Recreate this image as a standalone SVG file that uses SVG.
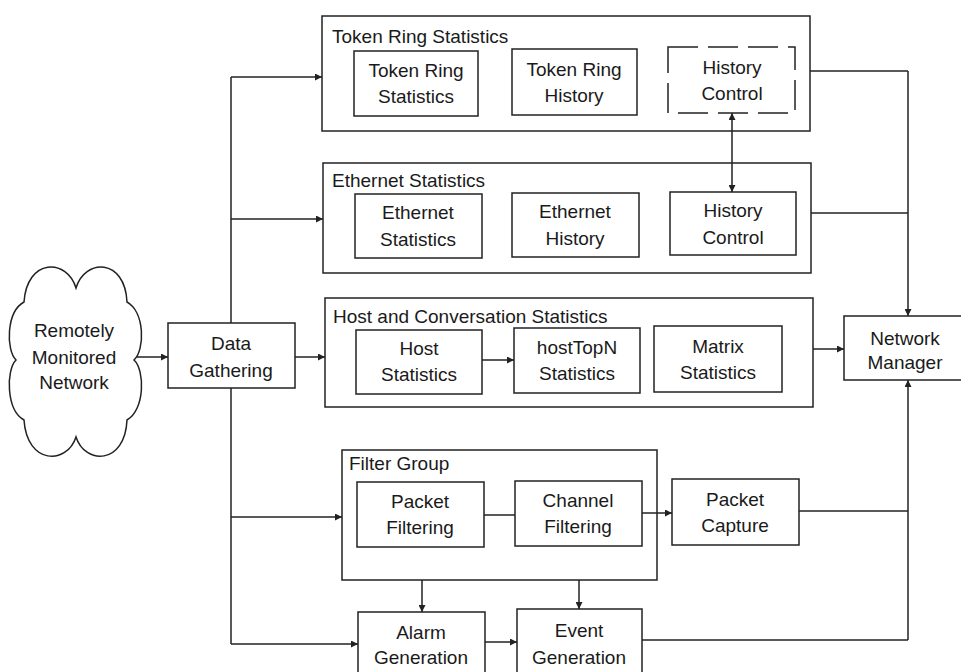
<svg xmlns="http://www.w3.org/2000/svg" width="961" height="672" viewBox="0 0 961 672">
<style>
  .box { fill: #ffffff; stroke: #222; stroke-width: 1.5; }
  .dash { fill: #ffffff; stroke: #222; stroke-width: 1.5; stroke-dasharray: 30 10; }
  .t { font-family: "Liberation Sans", Arial, sans-serif; font-size: 19px; fill: #1a1a1a; text-anchor: middle; }
  .title { font-family: "Liberation Sans", Arial, sans-serif; font-size: 19px; fill: #1a1a1a; text-anchor: start; }
  .ln { fill: none; stroke: #222; stroke-width: 1.5; }
  .arr { fill: none; stroke: #222; stroke-width: 1.5; marker-end: url(#ah); }
</style>
<defs>
  <marker id="ah" viewBox="0 0 10 10" refX="10" refY="5" markerWidth="7" markerHeight="7" markerUnits="userSpaceOnUse" orient="auto-start-reverse">
    <path d="M0,0 L10,5 L0,10 z" fill="#222"/>
  </marker>
</defs>
<rect width="961" height="672" fill="#ffffff"/>

<g id="cloud">
  <path class="box" d="M76,288 C85,258 125,258 127,302 C145,312 145,350 134,360 C145,370 145,410 127,420 C125,465 85,465 76,437 C67,465 27,465 24,420 C6,410 6,370 16,360 C6,350 6,312 24,302 C27,258 67,258 76,288 Z"/>
  <text class="t" x="74" y="337">Remotely</text>
  <text class="t" x="74" y="364">Monitored</text>
  <text class="t" x="74" y="389">Network</text>
</g>

<g id="data-gathering">
  <rect class="box" x="168" y="323" width="127" height="65"/>
  <text class="t" x="231" y="350">Data</text>
  <text class="t" x="231" y="377">Gathering</text>
</g>

<g id="token-ring-group">
  <rect class="box" x="322" y="16" width="488" height="115"/>
  <text class="title" x="332" y="43">Token Ring Statistics</text>
</g>
<g id="tr-stats">
  <rect class="box" x="354" y="51" width="124" height="65"/>
  <text class="t" x="416" y="77">Token Ring</text>
  <text class="t" x="416" y="103">Statistics</text>
</g>
<g id="tr-history">
  <rect class="box" x="512" y="49" width="125" height="66"/>
  <text class="t" x="574" y="76">Token Ring</text>
  <text class="t" x="574" y="102">History</text>
</g>
<g id="tr-history-control">
  <rect class="dash" x="668" y="47" width="127" height="66"/>
  <text class="t" x="732" y="74">History</text>
  <text class="t" x="732" y="100">Control</text>
</g>

<g id="ethernet-group">
  <rect class="box" x="323" y="163" width="488" height="110"/>
  <text class="title" x="332" y="187">Ethernet Statistics</text>
</g>
<g id="eth-stats">
  <rect class="box" x="355" y="194" width="127" height="64"/>
  <text class="t" x="418" y="219">Ethernet</text>
  <text class="t" x="418" y="246">Statistics</text>
</g>
<g id="eth-history">
  <rect class="box" x="512" y="193" width="127" height="64"/>
  <text class="t" x="575" y="218">Ethernet</text>
  <text class="t" x="575" y="245">History</text>
</g>
<g id="eth-history-control">
  <rect class="box" x="670" y="192" width="126" height="63"/>
  <text class="t" x="733" y="217">History</text>
  <text class="t" x="733" y="244">Control</text>
</g>

<g id="host-group">
  <rect class="box" x="325" y="298" width="488" height="109"/>
  <text class="title" x="333" y="323">Host and Conversation Statistics</text>
</g>
<g id="host-stats">
  <rect class="box" x="356" y="330" width="126" height="64"/>
  <text class="t" x="419" y="355">Host</text>
  <text class="t" x="419" y="381">Statistics</text>
</g>
<g id="hosttopn-stats">
  <rect class="box" x="514" y="328" width="126" height="65"/>
  <text class="t" x="577" y="354">hostTopN</text>
  <text class="t" x="577" y="380">Statistics</text>
</g>
<g id="matrix-stats">
  <rect class="box" x="654" y="326" width="128" height="66"/>
  <text class="t" x="718" y="353">Matrix</text>
  <text class="t" x="718" y="379">Statistics</text>
</g>

<g id="network-manager">
  <rect class="box" x="844" y="316" width="130" height="64"/>
  <text class="t" x="905" y="345">Network</text>
  <text class="t" x="905" y="369">Manager</text>
</g>

<g id="filter-group">
  <rect class="box" x="342" y="450" width="315" height="130"/>
  <text class="title" x="349" y="470">Filter Group</text>
</g>
<g id="packet-filtering">
  <rect class="box" x="357" y="482" width="127" height="65"/>
  <text class="t" x="420" y="508">Packet</text>
  <text class="t" x="420" y="534">Filtering</text>
</g>
<g id="channel-filtering">
  <rect class="box" x="515" y="481" width="127" height="65"/>
  <text class="t" x="578" y="507">Channel</text>
  <text class="t" x="578" y="533">Filtering</text>
</g>
<g id="packet-capture">
  <rect class="box" x="672" y="479" width="127" height="66"/>
  <text class="t" x="735" y="506">Packet</text>
  <text class="t" x="735" y="532">Capture</text>
</g>

<g id="alarm-generation">
  <rect class="box" x="358" y="612" width="127" height="70"/>
  <text class="t" x="421" y="639">Alarm</text>
  <text class="t" x="421" y="664">Generation</text>
</g>
<g id="event-generation">
  <rect class="box" x="517" y="609" width="125" height="73"/>
  <text class="t" x="579" y="637">Event</text>
  <text class="t" x="579" y="664">Generation</text>
</g>

<g id="connectors">
  <path class="arr" d="M137,357 H168"/>
  <path class="arr" d="M295,357 H325"/>
  <path class="ln" d="M231,323 V77"/>
  <path class="arr" d="M231,77 H322"/>
  <path class="arr" d="M231,219 H323"/>
  <path class="ln" d="M231,388 V644"/>
  <path class="arr" d="M231,517 H342"/>
  <path class="arr" d="M231,644 H358"/>
  <path class="arr" d="M732,153 V113"/>
  <path class="arr" d="M732,153 V192"/>
  <path class="arr" d="M482,360 H514"/>
  <path class="ln" d="M810,71 H908"/>
  <path class="ln" d="M811,213 H908"/>
  <path class="arr" d="M908,71 V316"/>
  <path class="arr" d="M813,349 H844"/>
  <path class="ln" d="M799,511 H908"/>
  <path class="ln" d="M642,640 H908"/>
  <path class="arr" d="M908,640 V380"/>
  <path class="ln" d="M484,515 H515"/>
  <path class="arr" d="M642,513 H672"/>
  <path class="arr" d="M422,580 V612"/>
  <path class="arr" d="M579,580 V609"/>
  <path class="arr" d="M485,642 H517"/>
</g>
</svg>
